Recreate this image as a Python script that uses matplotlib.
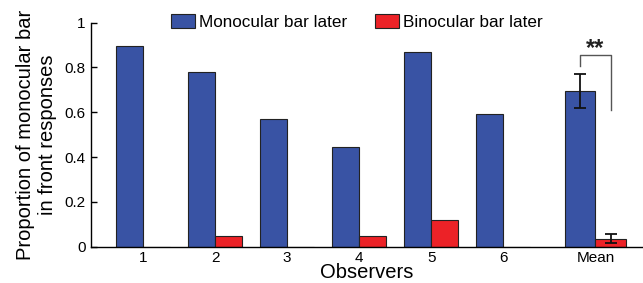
import numpy as np
import matplotlib.pyplot as plt

plt.rcParams['font.family'] = ['Liberation Sans', 'DejaVu Sans']

# data
labels = ['1', '2', '3', '4', '5', '6', 'Mean']
monocular = [0.896, 0.78, 0.569, 0.446, 0.87, 0.592, 0.695]
binocular = [0.0, 0.046, 0.0, 0.046, 0.119, 0.0, 0.036]
mono_err = [0, 0, 0, 0, 0, 0, 0.075]
bino_err = [0, 0, 0, 0, 0, 0, 0.021]

blue = '#3953A4'
red = '#EC2227'

fig = plt.figure(figsize=(6.43, 2.83), dpi=100)
ax = fig.add_axes([91 / 643, 1 - 246.7 / 283, 1 - 91 / 643, (246.7 - 22.7) / 283])

x = np.array([1, 2, 3, 4, 5, 6, 7.28])
w = np.array([0.375] * 6 + [0.42])

ax.bar(x - w / 2, monocular, w, color=blue, edgecolor='#222222', lw=0.8,
       label='Monocular bar later', zorder=2)
ax.bar(x + w / 2, binocular, w, color=red, edgecolor='#222222', lw=0.8,
       label='Binocular bar later', zorder=2)

# error bars on the mean only
m = len(x) - 1
ax.errorbar(x[m] - w[m] / 2, monocular[m], yerr=mono_err[m], fmt='none',
            ecolor='#111111', elinewidth=1.3, capsize=4, capthick=1.3, zorder=3)
ax.errorbar(x[m] + w[m] / 2, binocular[m], yerr=bino_err[m], fmt='none',
            ecolor='#111111', elinewidth=1.3, capsize=4, capthick=1.3, zorder=3)

# significance bracket
xl, xr = x[m] - w[m] / 2, x[m] + w[m] / 2
ax.plot([xl, xl, xr, xr], [0.807, 0.854, 0.854, 0.61], color='#555555', lw=1.0,
        clip_on=False)
ax.text((xl + xr) / 2, 0.835, '**', ha='center', va='bottom', fontsize=17,
        fontweight='bold', color='#222222')

ax.set_xlim(0.278, 7.94)
ax.set_ylim(0, 1)
ax.set_xticks(x)
ax.set_xticklabels(labels, fontsize=11)
ax.set_yticks([0, 0.2, 0.4, 0.6, 0.8, 1])
ax.set_yticklabels(['0', '0.2', '0.4', '0.6', '0.8', '1'], fontsize=11)
ax.tick_params(axis='x', length=0, pad=3)
ax.tick_params(axis='y', direction='in', length=4, width=1, pad=4)
for s in ['top', 'right']:
    ax.spines[s].set_visible(False)
ax.spines['left'].set_linewidth(1.0)
ax.spines['bottom'].set_linewidth(1.0)

ax.set_xlabel('Observers', fontsize=14.5, labelpad=-1)
ax.set_ylabel('Proportion of monocular bar\nin front responses', fontsize=14.5,
              linespacing=1.25, labelpad=5)

fig.legend(loc='center left', bbox_to_anchor=(171 / 643, 1 - 22 / 283),
           ncol=2, frameon=False, fontsize=12.3, borderpad=0, borderaxespad=0,
           handlelength=1.4, handleheight=0.85, handletextpad=0.25,
           columnspacing=1.6)

fig.savefig('out.png', dpi=100)
